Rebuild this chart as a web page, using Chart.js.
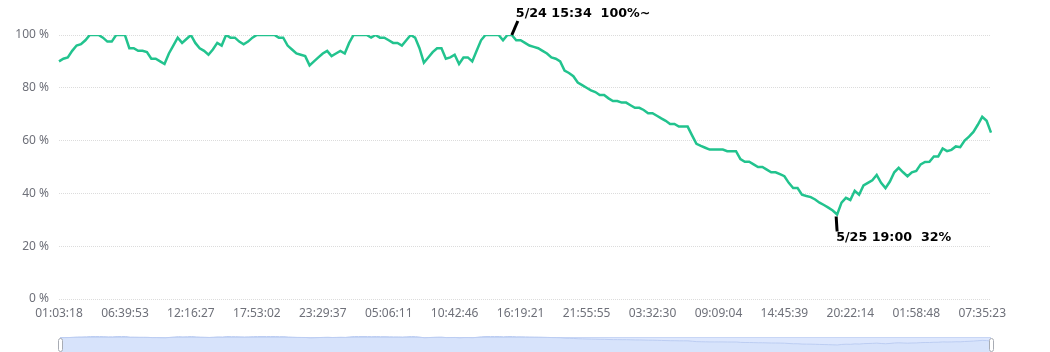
<!DOCTYPE html>
<html>
<head>
<meta charset="utf-8">
<script src="https://cdn.jsdelivr.net/npm/chart.js@4.4.1/dist/chart.umd.min.js"></script>
<style>
    body { margin: 0; background: #fff; overflow: hidden; }
    #wrap { position: relative; width: 1050px; height: 352px; overflow: hidden; }
    #main { position: absolute; left: 0; top: 0; width: 1050px; height: 352px; }
    #zoom { position: absolute; left: 0; top: 336px; width: 1050px; height: 30px; }
</style>
</head>
<body>
<div id="wrap">
    <div id="main"><canvas id="levelChart"></canvas></div>
    <div id="zoom"><canvas id="zoomChart"></canvas></div>
</div>
<script>
// Tick labels on the time axis (one every 15 samples)
const tickLabels = ['01:03:18', '06:39:53', '12:16:27', '17:53:02', '23:29:37', '05:06:11', '10:42:46',
    '16:19:21', '21:55:55', '03:32:30', '09:09:04', '14:45:39', '20:22:14', '01:58:48', '07:35:23'];
const tickEvery = 15;

// Level (%)
const levels = [
    90, 91, 91.5, 94, 96, 96.5, 98, 100, 100, 100,
    99, 97.5, 97.5, 100, 100, 100, 95, 95, 94, 94,
    93.5, 91, 91, 90, 89, 93, 96, 99, 97, 98.5,
    100, 97, 95, 94, 92.5, 94.5, 97, 96, 100, 99,
    99, 97.5, 96.5, 97.5, 99, 100, 100, 100, 100, 100,
    99, 99, 96, 94.5, 93, 92.5, 92, 88.5, 90, 91.5,
    93, 94, 92, 93, 94, 93, 97, 100, 100, 100,
    100, 99, 100, 99, 99, 98, 97, 97, 96, 98,
    100, 99, 95, 89.5, 91.5, 93.5, 95, 95, 91, 91.5,
    92.5, 89, 91.5, 91.5, 90, 94, 98, 100, 100, 100,
    100, 98, 100, 100, 98, 98, 97, 96, 95.5, 95,
    94, 93, 91.5, 91, 90, 86.5, 85.6, 84.4, 82, 81,
    80, 79, 78.4, 77.3, 77.3, 76, 75, 75, 74.4, 74.4,
    73.4, 72.4, 72.4, 71.6, 70.4, 70.4, 69.4, 68.4, 67.5, 66.3,
    66.3, 65.3, 65.3, 65.3, 62, 58.8, 58, 57.3, 56.6, 56.6,
    56.6, 56.6, 56, 56, 56, 53, 52, 52, 51, 50,
    50, 49, 48, 48, 47.3, 46.5, 44, 42, 42, 39.5,
    39, 38.6, 37.7, 36.5, 35.6, 34.6, 33.5, 32, 36.5, 38.3,
    37.5, 41, 39.5, 43, 44, 45, 47, 44, 42, 44.5,
    48, 49.7, 48, 46.5, 48, 48.5, 51, 51.9, 52, 54,
    54, 57, 56, 56.5, 57.8, 57.5, 60, 61.5, 63.3, 66,
    69, 67.5, 63
];

// Marked points
const markIndex = [103, 177];
const markText = ['5/24 15:34  100%~', '5/25 19:00  32%'];

const yTicks = [0, 20, 40, 60, 80, 100];

const labels = levels.map((_, i) => i);

Chart.defaults.font.family = "'Noto Sans', sans-serif";
Chart.defaults.font.size = 12;
Chart.defaults.color = '#6e7079';

// Black markers with text
const markPlugin = {
    id: 'marks',
    afterDatasetsDraw(chart) {
        const ctx = chart.ctx;
        const pts = chart.getDatasetMeta(0).data;
        ctx.save();
        ctx.strokeStyle = '#000';
        ctx.fillStyle = '#000';
        ctx.lineWidth = 3;
        ctx.font = "bold 12.7px 'DejaVu Sans'";
        ctx.textBaseline = 'alphabetic';

        // peak, label above
        let p = pts[markIndex[0]];
        ctx.beginPath();
        ctx.moveTo(p.x, p.y);
        ctx.lineTo(p.x + 6, p.y - 14);
        ctx.stroke();
        ctx.fillText(markText[0], p.x + 4, p.y - 18);

        // low, label below
        p = pts[markIndex[1]];
        ctx.beginPath();
        ctx.moveTo(p.x - 1, p.y + 2);
        ctx.lineTo(p.x, p.y + 17);
        ctx.stroke();
        ctx.fillText(markText[1], p.x - 1, p.y + 26);
        ctx.restore();
    }
};

new Chart(document.getElementById('levelChart').getContext('2d'), {
    type: 'line',
    data: {
        labels: labels,
        datasets: [{
            data: levels,
            borderColor: '#22c38e',
            borderWidth: 2.5,
            pointRadius: 0,
            tension: 0,
            fill: false
        }]
    },
    options: {
        responsive: true,
        maintainAspectRatio: false,
        animation: false,
        layout: { padding: { top: 35, right: 59, left: 0, bottom: 0 } },
        plugins: {
            legend: { display: false },
            tooltip: { enabled: false }
        },
        scales: {
            x: {
                type: 'category',
                offset: false,
                border: { display: false },
                grid: { display: false, drawTicks: false },
                ticks: {
                    autoSkip: false,
                    maxRotation: 0,
                    padding: 7,
                    callback: function(value, index) {
                        return index % tickEvery === 0 ? tickLabels[index / tickEvery] : null;
                    }
                },
                afterFit: function(scale) { scale.height = 53; }
            },
            y: {
                min: 0,
                max: 100,
                border: { display: false },
                grid: {
                    color: '#dcdcdc',
                    drawTicks: false
                },
                ticks: {
                    padding: 10,
                    stepSize: 20,
                    callback: function(value) {
                        return yTicks.includes(value) ? value + ' %' : null;
                    }
                },
                afterFit: function(scale) { scale.width = 59; }
            }
        }
    },
    plugins: [markPlugin, {
        id: 'dottedGrid',
        beforeInit(chart) {
            chart.options.scales.y.border.dash = [1, 1];
        }
    }]
});

// Zoom slider band below the chart
const bandPlugin = {
    id: 'band',
    beforeDatasetsDraw(chart) {
        const { ctx, chartArea } = chart;
        ctx.save();
        ctx.fillStyle = '#dde7fd';
        ctx.fillRect(chartArea.left, 1, chartArea.right - chartArea.left, 29);
        ctx.strokeStyle = '#c8d6f5';
        ctx.lineWidth = 1;
        ctx.beginPath();
        ctx.moveTo(chartArea.left, 1.5);
        ctx.lineTo(chartArea.right, 1.5);
        ctx.stroke();
        ctx.restore();
    },
    afterDraw(chart) {
        const { ctx, chartArea } = chart;
        ctx.save();
        ctx.fillStyle = '#fff';
        ctx.strokeStyle = '#a8acb4';
        ctx.lineWidth = 1;
        [chartArea.left, chartArea.right].forEach(x => {
            ctx.beginPath();
            ctx.roundRect(x - 1.5, 2.5, 4, 13, 2);
            ctx.fill();
            ctx.stroke();
        });
        ctx.restore();
    }
};

new Chart(document.getElementById('zoomChart').getContext('2d'), {
    type: 'line',
    data: {
        labels: labels,
        datasets: [{
            data: levels,
            borderColor: '#bccdf2',
            borderWidth: 1,
            pointRadius: 0,
            fill: 'start',
            backgroundColor: 'rgba(170,195,240,0.12)'
        }]
    },
    options: {
        responsive: true,
        maintainAspectRatio: false,
        animation: false,
        layout: { padding: { left: 60, right: 59, top: 0, bottom: 0 } },
        plugins: {
            legend: { display: false },
            tooltip: { enabled: false }
        },
        scales: {
            x: { display: false, offset: false },
            y: { display: false, min: -136, max: 104 }
        }
    },
    plugins: [bandPlugin]
});
</script>
</body>
</html>
